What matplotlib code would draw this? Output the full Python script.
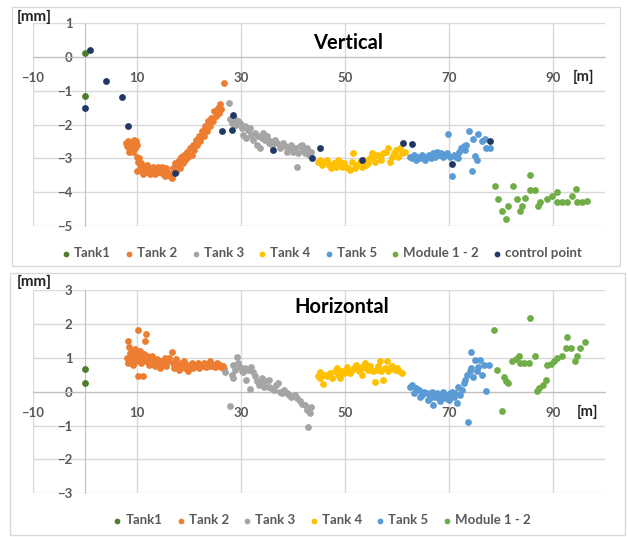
#Scatter of vertical and horizontal deviations along the tanks
import matplotlib
matplotlib.use("Agg")
import matplotlib.pyplot as plt
from matplotlib.patches import Rectangle

plt.rcParams['font.family'] = ['Lato', 'DejaVu Sans']

#---------------- Vertical data ----------------
v_tank1_x = [0.0, 0.0]
v_tank1_y = [0.12, -1.15]

v_tank2_x = [7.8, 8.0, 8.2, 8.4, 8.6, 8.8, 9.0, 9.2, 9.4, 9.6, 9.8, 10.0, 8.5, 9.3,
             10.0, 10.2, 10.4, 10.6, 10.0, 10.5, 10.8, 11.0, 11.2, 11.5, 11.8, 12.0, 12.3,
             12.5, 12.8, 13.0, 13.3, 13.5, 13.8, 14.0, 14.3, 14.5, 14.8, 15.0, 15.4, 15.6,
             15.8, 16.0, 16.3, 16.5, 16.7,
             17.0, 17.3, 17.5, 17.8, 18.0, 18.2, 18.5, 18.8, 19.0, 19.3, 19.6, 19.9, 20.2,
             20.5, 20.8, 21.0, 21.3, 21.6, 21.9, 22.2, 22.5, 22.8, 23.1, 23.4, 23.7, 24.0,
             24.3, 24.6, 24.9, 25.2, 25.5, 25.8, 26.0, 26.2, 26.7]
v_tank2_y = [-2.55, -2.65, -2.5, -2.7, -2.6, -2.75, -2.55, -2.65, -2.45, -2.7, -2.5, -2.6, -2.8, -2.8,
             -2.95, -3.1, -3.0, -3.2, -3.38, -3.35, -3.15, -3.3, -3.45, -3.25, -3.4, -3.2, -3.35,
             -3.45, -3.3, -3.25, -3.4, -3.47, -3.3, -3.25, -3.4, -3.35, -3.25, -3.45, -3.52, -3.3,
             -3.4, -3.5, -3.45, -3.55, -3.58,
             -3.3, -3.15, -3.4, -3.2, -3.05, -3.3, -2.95, -3.15, -2.9, -3.05, -2.8, -2.95, -2.7,
             -2.9, -2.6, -2.75, -2.45, -2.6, -2.35, -2.5, -2.2, -2.35, -2.05, -2.2, -1.9, -2.05,
             -1.8, -1.9, -1.6, -1.75, -1.5, -1.65, -1.4, -1.55, -0.76]

v_tank3_x = [27.6, 27.9, 28.3, 28.6, 29.0, 29.4, 29.8, 30.1, 30.4, 30.7, 31.0, 31.3, 31.7,
             32.0, 32.3, 32.6, 33.0, 33.3, 33.7, 34.0, 34.3, 34.6, 35.0, 35.3, 35.6, 36.0,
             36.5, 37.0, 37.5, 38.0, 38.4, 38.8, 39.2, 39.6, 40.0, 40.4, 40.7, 41.0, 41.3,
             41.7, 42.0, 42.4, 42.7, 43.0, 43.4]
v_tank3_y = [-1.36, -1.85, -1.95, -1.8, -2.0, -1.9, -1.95, -2.1, -2.3, -2.05, -2.4, -2.15, -2.1,
             -2.3, -2.45, -2.25, -2.6, -2.35, -2.7, -2.4, -2.25, -2.45, -2.35, -2.55, -2.5, -2.6,
             -2.45, -2.55, -2.7, -2.55, -2.65, -2.82, -2.7, -2.6, -2.8, -2.7, -3.27, -2.85, -2.65,
             -2.6, -2.75, -2.85, -2.7, -2.9, -2.8]

v_tank4_x = [44.8, 45.2, 45.6, 46.0, 46.6, 47.0, 47.4, 47.8, 48.2, 48.6, 49.0, 49.4, 49.8,
             50.2, 50.6, 51.0, 51.3, 51.6, 52.0, 52.4, 52.8, 53.2, 53.6, 54.0, 54.4, 54.8,
             55.1, 55.4, 55.8, 56.2, 56.7, 57.0, 57.4, 57.8, 58.3, 58.7, 59.0, 59.4, 59.8,
             60.2, 60.6, 61.0, 61.5]
v_tank4_y = [-3.1, -3.05, -3.2, -3.1, -3.05, -3.2, -3.3, -3.15, -3.25, -3.05, -3.1, -3.25, -3.15,
             -3.25, -3.3, -3.35, -3.1, -2.85, -3.3, -3.2, -3.1, -3.25, -3.05, -3.2, -3.15, -3.0,
             -2.85, -2.95, -3.1, -2.9, -2.95, -3.05, -2.85, -2.8, -2.7, -3.1, -2.95, -2.85, -2.75,
             -2.95, -2.7, -2.85, -2.8]

v_tank5_x = [62.5, 62.9, 63.3, 63.7, 64.1, 64.5, 64.9, 65.3, 65.7, 66.1, 66.5, 66.9, 67.3,
             67.7, 68.1, 68.5, 68.9, 69.3, 69.7, 69.9, 70.1, 70.6, 70.9, 71.3, 71.8, 72.0,
             72.4, 72.8, 73.1, 73.3, 73.8, 74.4, 74.7, 75.0, 75.3, 75.6, 76.3, 76.9, 77.2, 77.8]
v_tank5_y = [-2.95, -3.0, -2.9, -3.05, -2.95, -3.0, -2.9, -3.05, -2.95, -2.9, -3.0, -2.85, -2.95,
             -2.8, -2.9, -2.85, -2.95, -2.9, -2.85, -2.29, -2.95, -3.52, -2.9, -2.95, -2.98, -2.8,
             -2.7, -2.65, -2.75, -2.62, -2.18, -3.37, -2.44, -2.93, -3.05, -2.29, -2.49, -2.42, -2.68, -2.68]

v_module_x = [78.8, 79.5, 80.1, 80.9, 81.4, 82.4, 83.0, 83.7, 84.0, 84.6, 85.5, 85.5, 86.5,
              87.2, 87.5, 88.8, 89.8, 90.7, 90.7, 91.7, 92.6, 93.6, 94.4, 94.6, 95.5, 96.5]
v_module_y = [-3.81, -4.2, -4.55, -4.79, -4.4, -3.81, -4.2, -4.55, -4.4, -4.18, -3.5, -3.94, -3.93,
              -4.4, -4.3, -4.2, -4.1, -4.0, -4.3, -4.3, -4.3, -4.1, -3.9, -4.3, -4.3, -4.27]

v_ctrl_x = [0.0, 1.0, 4.0, 7.2, 8.2, 17.3, 26.3, 28.2, 28.5, 36.2, 43.7, 45.1, 53.3, 61.1,
            62.8, 70.5, 77.9]
v_ctrl_y = [-1.5, 0.2, -0.71, -1.2, -2.05, -3.42, -2.2, -2.15, -1.72, -2.74, -2.98, -2.7, -3.05,
            -2.54, -2.59, -3.18, -2.49]

#---------------- Horizontal data ----------------
h_tank1_x = [0.0, 0.0]
h_tank1_y = [0.66, 0.25]

h_tank2_x = [8.0, 8.2, 8.3, 8.5, 8.6, 8.8, 9.0, 9.2, 9.4, 9.6, 9.8, 10.0, 10.1, 10.2, 10.3,
             10.5, 10.7, 10.9, 11.2, 11.3, 11.5, 11.7, 11.8, 12.0, 12.3, 12.6, 12.9, 13.2,
             13.5, 13.8, 14.1, 14.4, 14.7, 15.0, 15.3, 15.6, 15.9, 16.2, 16.7, 16.9, 17.2,
             17.5, 17.8, 18.1, 18.4, 18.7, 19.0, 19.3, 19.6, 19.9, 20.2, 20.5, 20.8, 21.1,
             21.4, 21.7, 22.0, 22.3, 22.6, 22.9, 23.2, 23.5, 23.8, 24.1, 24.4, 24.7, 25.0,
             25.3, 25.6, 25.9, 26.2, 26.5, 26.8]
h_tank2_y = [1.0, 1.5, 0.85, 1.33, 1.15, 0.95, 1.2, 0.8, 1.05, 1.25, 0.9, 1.1, 1.82, 0.46, 0.95,
             1.2, 0.85, 1.0, 0.46, 1.1, 1.5, 1.69, 0.9, 1.05, 0.8, 0.95, 1.05, 0.85,
             0.75, 0.95, 0.85, 0.7, 0.9, 0.8, 1.0, 0.75, 0.9, 1.0, 1.18, 0.85, 0.7,
             0.95, 0.8, 0.65, 0.85, 0.75, 0.9, 0.7, 0.8, 0.62, 0.75, 0.85, 0.7, 0.8,
             0.75, 0.85, 0.7, 0.8, 0.75, 0.85, 0.72, 0.8, 0.75, 0.9, 0.75, 0.8, 0.72,
             0.85, 0.75, 0.8, 0.72, 0.75, 0.68]

h_tank3_x = [26.9, 27.8, 28.3, 28.5, 28.5, 28.9, 29.2, 29.5, 29.8, 30.1, 30.4, 30.7, 31.0,
             31.3, 31.7, 32.0, 32.3, 32.6, 33.0, 33.4, 33.7, 34.0, 34.4, 34.8, 35.3, 35.3,
             35.8, 36.3, 36.7, 37.2, 37.5, 37.8, 38.3, 38.8, 39.2, 39.7, 40.3, 40.8, 41.3,
             41.8, 42.3, 42.6, 42.8, 42.9, 43.3, 43.5]
h_tank3_y = [0.59, -0.42, 0.5, 0.79, 0.39, 0.65, 1.03, 0.85, 0.74, 0.6, 0.59, 0.7, 0.34,
             0.65, 0.07, 0.74, 0.59, 0.45, 0.3, 0.2, 0.25, 0.4, 0.15, 0.3, 0.35, 0.15,
             0.1, 0.05, 0.2, 0.25, 0.0, -0.05, 0.05, -0.05, -0.1, -0.15, -0.1, -0.2, -0.29,
             -0.35, -0.39, -0.55, -1.03, -0.49, -0.64, -0.45]

h_tank4_x = [44.8, 45.2, 45.2, 45.8, 46.2, 46.6, 47.1, 47.5, 48.0, 48.4, 48.7, 49.0, 49.4,
             49.8, 50.3, 50.6, 51.0, 51.4, 51.8, 52.2, 52.6, 53.0, 53.2, 53.5, 53.8, 54.1,
             54.5, 54.9, 55.3, 55.8, 56.0, 56.4, 56.7, 57.0, 57.4, 57.7, 58.0, 58.3, 58.7,
             59.1, 59.6, 60.0, 60.4, 60.9]
h_tank4_y = [0.45, 0.59, 0.39, 0.22, 0.5, 0.45, 0.54, 0.4, 0.6, 0.69, 0.5, 0.39, 0.6,
             0.55, 0.74, 0.6, 0.54, 0.65, 0.7, 0.79, 0.6, 0.7, 0.49, 0.75, 0.84, 0.7,
             0.64, 0.75, 0.6, 0.29, 0.65, 0.75, 0.89, 0.6, 0.34, 0.7, 0.89, 0.6, 0.69,
             0.75, 0.64, 0.7, 0.6, 0.54]

h_tank5_x = [62.5, 62.8, 63.2, 63.6, 64.2, 64.5, 64.8, 65.2, 65.8, 66.0, 66.3, 66.7, 67.0,
             67.3, 67.6, 68.0, 68.3, 68.6, 68.9, 69.3, 69.6, 70.0, 70.2, 70.6, 70.9, 71.2,
             71.5, 71.8, 72.1, 72.5, 72.8, 73.1, 73.4, 73.7, 74.0, 74.2, 74.2, 74.7, 75.0,
             75.3, 75.6, 76.0, 76.3, 76.7, 77.1, 77.6]
h_tank5_y = [0.15, 0.2, -0.05, 0.1, 0.05, -0.15, -0.1, 0.0, -0.05, -0.25, -0.2, 0.0, -0.39,
             -0.15, -0.05, -0.2, -0.29, -0.1, 0.0, -0.2, -0.1, -0.25, -0.05, 0.0, -0.15, -0.05,
             -0.34, 0.15, -0.1, 0.05, 0.25, 0.35, 0.49, -0.9, 0.6, 0.69, 1.16, 0.44, 0.94,
             0.6, 0.74, 0.94, 0.49, 0.79, 0.02, 0.79]

h_module_x = [78.7, 79.3, 80.1, 80.6, 81.0, 81.3, 82.1, 82.8, 83.4, 83.7, 84.5, 85.3, 85.5,
              86.5, 86.9, 87.4, 88.0, 88.7, 88.9, 89.6, 90.1, 90.8, 91.8, 92.5, 92.6, 93.4,
              94.2, 94.6, 95.2, 96.2]
h_module_y = [1.82, 0.64, -0.57, 0.44, 0.3, 0.25, 0.91, 0.97, 1.06, 0.84, 0.84, 0.84, 2.16,
              1.06, 0.02, 0.1, 0.2, 0.34, 0.79, 0.81, 0.89, 0.99, 1.04, 1.28, 1.62, 1.28,
              0.91, 1.06, 1.28, 1.48]

#Excel office colours
c_tank1 = '#4e7d2e'
c_tank2 = '#ed7d31'
c_tank3 = '#a5a5a5'
c_tank4 = '#ffc000'
c_tank5 = '#5b9bd5'
c_module = '#70ad47'
c_ctrl = '#203864'
txt_col = '#595959'
grid_col = '#d9d9d9'

W, H = 628, 537
fig = plt.figure(figsize=(W / 100, H / 100), dpi=100)

#chart area borders
fig.patches.append(Rectangle((12 / W, 1 - 266 / H), 608 / W, 259 / H, transform=fig.transFigure,
                             fill=False, edgecolor=grid_col, linewidth=1))
fig.patches.append(Rectangle((10 / W, 1 - 535 / H), 615 / W, 262 / H, transform=fig.transFigure,
                             fill=False, edgecolor=grid_col, linewidth=1))

ax1 = fig.add_axes([33 / W, 1 - 226 / H, 572 / W, 203 / H])
ax2 = fig.add_axes([33 / W, 1 - 493.3 / H, 572 / W, 203.3 / H])


def style_axis(ax, ymin, ymax):
    ax.set_xlim(-10, 100)
    ax.set_ylim(ymin, ymax)
    ax.set_xticks([-10, 10, 30, 50, 70, 90])
    ax.set_yticks(range(ymin, ymax + 1))
    ax.grid(True, color=grid_col, linewidth=1)
    ax.set_axisbelow(True)
    for s in ['top', 'right']:
        ax.spines[s].set_visible(False)
    ax.spines['left'].set_position(('data', 0))
    ax.spines['bottom'].set_position(('data', 0))
    ax.spines['left'].set_color('#bfbfbf')
    ax.spines['bottom'].set_color('#bfbfbf')
    ax.tick_params(axis='x', length=0, pad=11, labelsize=9.5, labelcolor=txt_col)
    ax.tick_params(axis='y', length=0, pad=9, labelsize=9.5, labelcolor=txt_col)
    for lab in ax.get_xticklabels() + ax.get_yticklabels():
        lab.set_fontweight('bold')
    ax.patch.set_alpha(0)


def dots(ax, x, y, col, name):
    return ax.scatter(x, y, s=24, color=col, linewidths=0, label=name, zorder=3)


#---- Vertical ----
style_axis(ax1, -5, 1)
dots(ax1, v_tank1_x, v_tank1_y, c_tank1, 'Tank1')
dots(ax1, v_tank2_x, v_tank2_y, c_tank2, 'Tank 2')
dots(ax1, v_tank3_x, v_tank3_y, c_tank3, 'Tank 3')
dots(ax1, v_tank4_x, v_tank4_y, c_tank4, 'Tank 4')
dots(ax1, v_tank5_x, v_tank5_y, c_tank5, 'Tank 5')
dots(ax1, v_module_x, v_module_y, c_module, 'Module 1 - 2')
dots(ax1, v_ctrl_x, v_ctrl_y, c_ctrl, 'control point')
ax1.text((348 - 33) / 572, (226 - 43) / 203, 'Vertical', transform=ax1.transAxes,
         ha='center', va='center', fontsize=14.5, fontweight='bold', color='black')
ax1.text((573 - 33) / 572, (226 - 77) / 203, '[m]', transform=ax1.transAxes,
         ha='left', va='center', fontsize=10.5, fontweight='bold', color='#222222')
fig.text(34 / W, 1 - 17 / H, '[mm]', ha='center', va='center', fontsize=11,
         fontweight='bold', color='#222222')
leg1 = ax1.legend(loc='center', bbox_to_anchor=(322 / W, 1 - 253 / H), bbox_transform=fig.transFigure,
                  ncol=7, frameon=False, handlelength=0.6, handletextpad=0.3, columnspacing=1.1,
                  scatterpoints=1, markerscale=0.85, prop={'size': 9.5, 'weight': 'bold'})
for t in leg1.get_texts():
    t.set_color(txt_col)

#---- Horizontal ----
style_axis(ax2, -3, 3)
dots(ax2, h_tank1_x, h_tank1_y, c_tank1, 'Tank1')
dots(ax2, h_tank2_x, h_tank2_y, c_tank2, 'Tank 2')
dots(ax2, h_tank3_x, h_tank3_y, c_tank3, 'Tank 3')
dots(ax2, h_tank4_x, h_tank4_y, c_tank4, 'Tank 4')
dots(ax2, h_tank5_x, h_tank5_y, c_tank5, 'Tank 5')
dots(ax2, h_module_x, h_module_y, c_module, 'Module 1 - 2')
ax2.text((342 - 33) / 572, (493.3 - 307) / 203.3, 'Horizontal', transform=ax2.transAxes,
         ha='center', va='center', fontsize=14.5, fontweight='bold', color='black')
ax2.text((577 - 33) / 572, (493.3 - 412) / 203.3, '[m]', transform=ax2.transAxes,
         ha='left', va='center', fontsize=10.5, fontweight='bold', color='#222222')
fig.text(34 / W, 1 - 282 / H, '[mm]', ha='center', va='center', fontsize=11,
         fontweight='bold', color='#222222')
leg2 = ax2.legend(loc='center', bbox_to_anchor=(322 / W, 1 - 520 / H), bbox_transform=fig.transFigure,
                  ncol=6, frameon=False, handlelength=0.6, handletextpad=0.3, columnspacing=1.1,
                  scatterpoints=1, markerscale=0.85, prop={'size': 9.5, 'weight': 'bold'})
for t in leg2.get_texts():
    t.set_color(txt_col)

fig.savefig('out.png', dpi=100)
